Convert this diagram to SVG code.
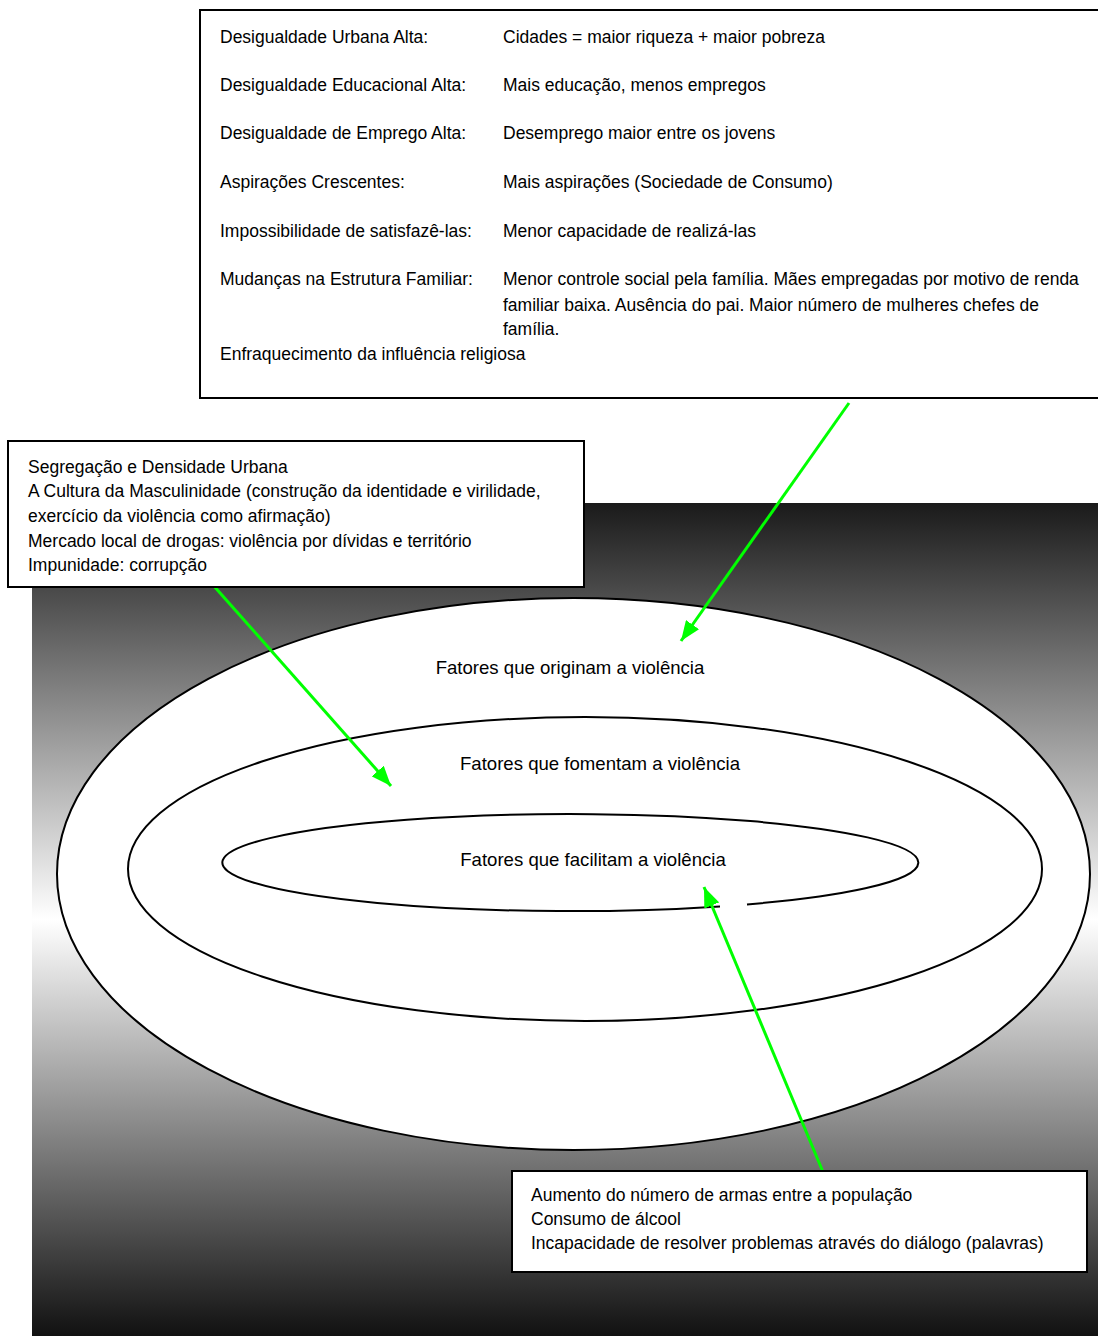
<svg xmlns="http://www.w3.org/2000/svg" width="1098" height="1336" viewBox="0 0 1098 1336">
<defs>
<linearGradient id="bg" x1="0" y1="0" x2="0" y2="1">
<stop offset="0" stop-color="#1a1a1a"/>
<stop offset="0.5" stop-color="#ffffff"/>
<stop offset="1" stop-color="#111111"/>
</linearGradient>
<marker id="ah" markerUnits="userSpaceOnUse" markerWidth="20" markerHeight="16" viewBox="0 0 20 16" refX="20" refY="8" orient="auto">
<path d="M0,0 L20,8 L0,16 z" fill="#00ff00"/>
</marker>
<style>
text{font-family:"Liberation Sans",Arial,sans-serif;font-size:17.5px;fill:#000}
.lbl{font-size:18.6px;text-anchor:middle}
.box{fill:#fff;stroke:#000;stroke-width:2}
.ell{fill:#fff;stroke:#000;stroke-width:2}
.arr{stroke:#00ff00;stroke-width:3;fill:none;marker-end:url(#ah)}
</style>
</defs>
<rect x="32" y="503" width="1066" height="833" fill="url(#bg)"/>
<g id="ellipses">
<g id="outer"><ellipse class="ell" cx="573.5" cy="874" rx="516.5" ry="276"/><text class="lbl" x="570" y="674">Fatores que originam a violência</text></g>
<g id="middle"><ellipse class="ell" cx="585" cy="869" rx="457" ry="152"/><text class="lbl" x="600" y="770">Fatores que fomentam a violência</text></g>
<g id="inner"><path class="ell" d="M720,906.4 A348,48.5 0 1 1 747,904.4"/><text class="lbl" x="593" y="866">Fatores que facilitam a violência</text></g>
</g>
<g id="connectors">
<line class="arr" x1="849" y1="403" x2="681" y2="641"/>
<line class="arr" x1="205" y1="576" x2="391" y2="786"/>
<line class="arr" x1="823" y1="1172" x2="704" y2="887"/>
</g>
<g id="box-top">
<rect class="box" x="200" y="10" width="906" height="388"/>
<text x="220" y="43">Desigualdade Urbana Alta:</text><text x="503" y="43">Cidades = maior riqueza + maior pobreza</text>
<text x="220" y="91">Desigualdade Educacional Alta:</text><text x="503" y="91">Mais educação, menos empregos</text>
<text x="220" y="139">Desigualdade de Emprego Alta:</text><text x="503" y="139">Desemprego maior entre os jovens</text>
<text x="220" y="188">Aspirações Crescentes:</text><text x="503" y="188">Mais aspirações (Sociedade de Consumo)</text>
<text x="220" y="237">Impossibilidade de satisfazê-las:</text><text x="503" y="237">Menor capacidade de realizá-las</text>
<text x="220" y="285">Mudanças na Estrutura Familiar:</text><text x="503" y="285">Menor controle social pela família. Mães empregadas por motivo de renda</text>
<text x="503" y="311">familiar baixa. Ausência do pai. Maior número de mulheres chefes de</text>
<text x="503" y="335">família.</text>
<text x="220" y="360">Enfraquecimento da influência religiosa</text>
</g>
<g id="box-left">
<rect class="box" x="8" y="441" width="576" height="146"/>
<text x="28" y="473">Segregação e Densidade Urbana</text>
<text x="28" y="497">A Cultura da Masculinidade (construção da identidade e virilidade,</text>
<text x="28" y="522">exercício da violência como afirmação)</text>
<text x="28" y="547">Mercado local de drogas: violência por dívidas e território</text>
<text x="28" y="571">Impunidade: corrupção</text>
</g>
<g id="box-bottom">
<rect class="box" x="512" y="1171" width="575" height="101"/>
<text x="531" y="1201">Aumento do número de armas entre a população</text>
<text x="531" y="1225">Consumo de álcool</text>
<text x="531" y="1249">Incapacidade de resolver problemas através do diálogo (palavras)</text>
</g>
</svg>
